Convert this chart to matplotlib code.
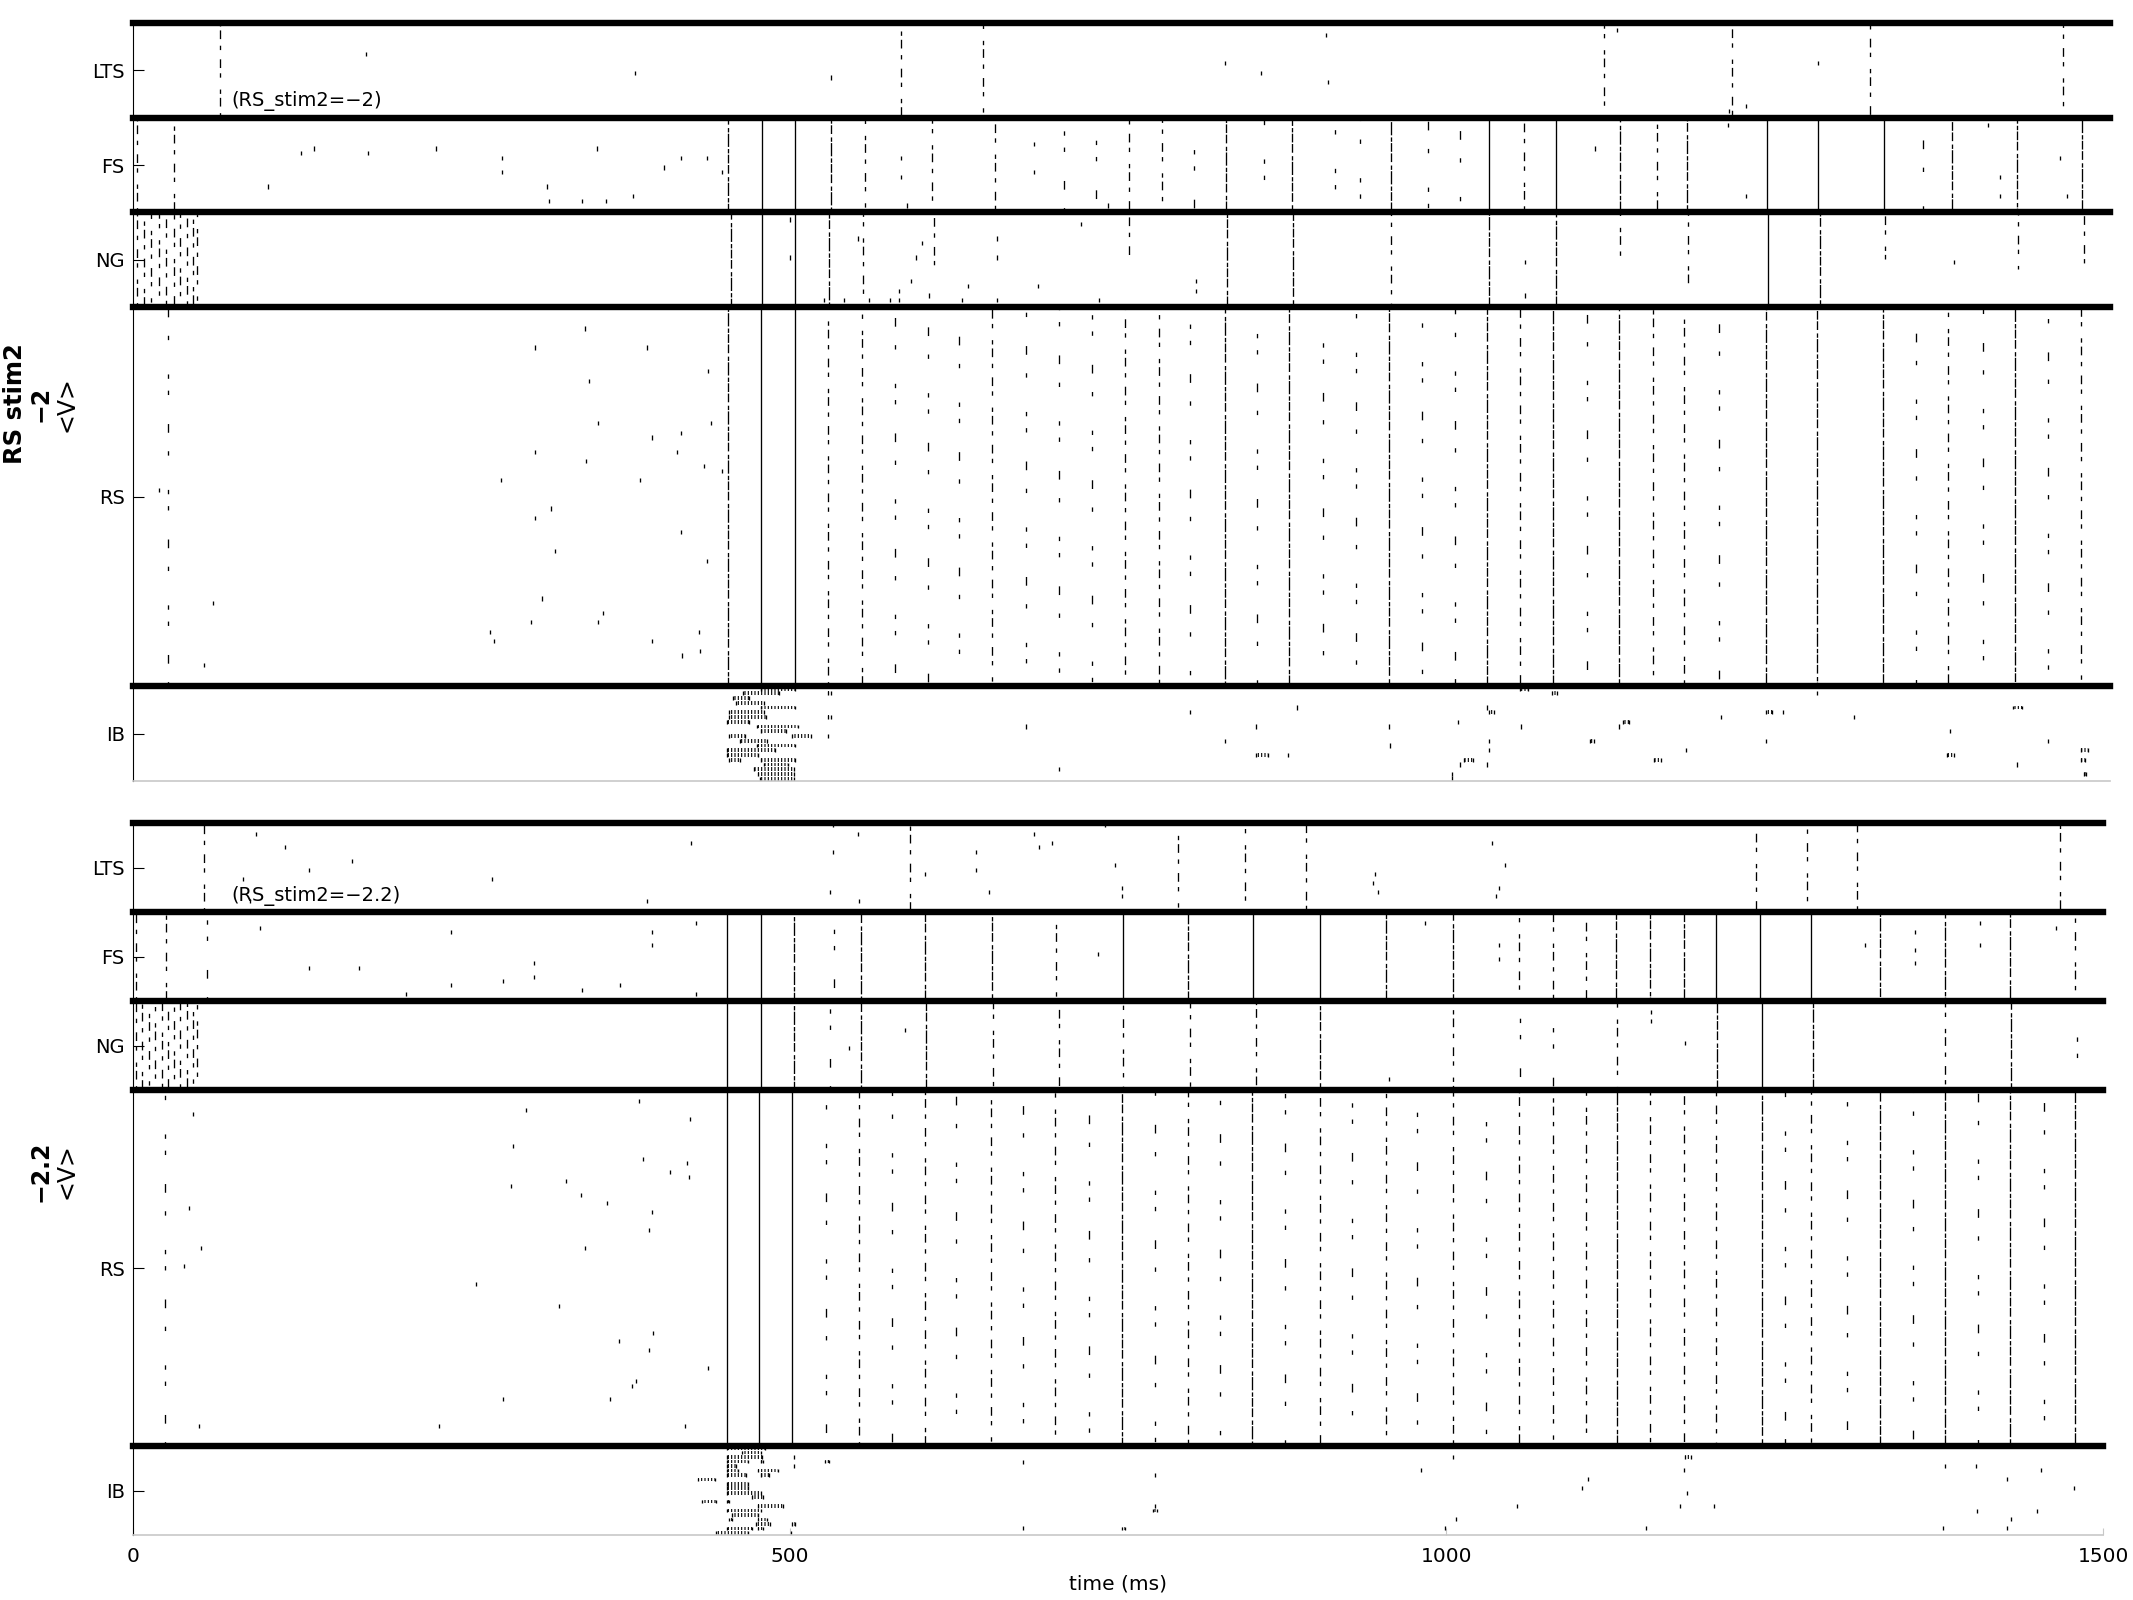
import matplotlib
matplotlib.use("Agg")
import matplotlib.pyplot as plt
from matplotlib.patches import Rectangle

plt.rcParams["font.family"] = ["DejaVu Sans"]
plt.rcParams["hatch.linewidth"] = 0.8

# populations, bottom -> top, and their cell counts
pop_names = ["IB", "RS", "NG", "FS", "LTS"]
pop_sizes = [20, 80, 20, 20, 20]

run_labels = ["(RS_stim2=\u22122)", "(RS_stim2=\u22122.2)"]
run_values = ["\u22122", "\u22122.2"]

# ---- run a : RS_stim2 = -2 ------------------------------------------
# volley times (ms) grouped by how many cells of the population fired;
# a tuple is (time, first row, last row) when only part of the band fired
# single spikes are (time, row)
lts_a_part = [66, 585, 647, 1120, 1217, 1322, 1469]
lts_a_spikes = [(177, 153), (382, 149), (531, 148), (831, 151), (859, 149), (908, 157),
                (910, 147), (1130, 158), (1215, 141), (1228, 142), (1283, 151)]

fs_a_full = [479, 504, 1032, 1083, 1244, 1283, 1333]
fs_a_dense = [453, 531, 832, 882, 958, 1132, 1183, 1385, 1434, 1484]
fs_a_part = [3, 31, 557, 608, 656, 758, 783, 1059, 1160]
fs_a_few = [709, 733, 808, 861, 915, 934, 986, 1010, 1363]
fs_a_spikes = [(103, 125), (128, 132), (138, 133), (179, 132), (231, 133), (281, 131),
               (281, 128), (315, 125), (317, 122), (342, 122), (353, 133), (360, 122),
               (381, 123), (404, 129), (417, 131), (437, 131), (448, 128), (585, 131),
               (585, 127), (589, 121), (686, 134), (686, 128), (742, 121), (1113, 133),
               (1214, 138), (1228, 123), (1412, 138), (1421, 127), (1421, 123),
               (1467, 131), (1472, 123)]

ng_a_full = [479, 504, 1245]
ng_a_dense = [455, 530, 833, 883, 1032, 1083, 1284]
ng_a_part = [3, 8, 14, 20, 25, 31, 36, 41, 46, 49, 556, (610, 108, 120), (758, 110, 120),
             958, (1132, 110, 120), (1184, 104, 120), (1334, 110, 120), (1435, 108, 120),
             (1485, 108, 120)]
ng_a_spikes = [(500, 118), (500, 110), (526, 101), (541, 101), (552, 114), (560, 101),
               (576, 101), (583, 103), (583, 101), (592, 105), (596, 110), (601, 113),
               (606, 102), (631, 101), (636, 104), (658, 114), (658, 110), (658, 101),
               (689, 104), (722, 117), (735, 101), (809, 105), (809, 103), (1060, 109),
               (1060, 102), (1386, 109)]

rs_a_full = [478, 504]
rs_a_dense = [453, 831, 880, 956, 1031, 1081, 1131, 1243, 1282, 1332, 1433]
rs_a_part = [529, 555, 654, 755, 781, 1056, 1157, 1181, 1382, 1483]
rs_a_few = [27, 580, 605, 629, 680, 705, 730, 805, 856, 906, 931, 981, 1006, 1107, 1207,
            1357, 1408, 1458]
rs_a_spikes = [(20, 61), (54, 24), (61, 37), (272, 31), (275, 29), (280, 63), (303, 33),
               (306, 91), (306, 69), (306, 55), (311, 38), (318, 57), (321, 48), (344, 95),
               (345, 67), (347, 84), (354, 75), (354, 33), (358, 35), (386, 63), (391, 91),
               (395, 72), (395, 29), (414, 69), (417, 73), (417, 52), (418, 26), (431, 31),
               (432, 27), (435, 66), (437, 46), (438, 86), (440, 75), (448, 65)]

# IB bursts: (row, first spike, last spike)
ib_a_bursts = [(19, 478, 504), (18, 464, 492), (17, 457, 469), (16, 459, 480), (15, 478, 504),
               (14, 454, 480), (13, 454, 482), (12, 452, 469), (11, 475, 506), (10, 478, 497),
               (9, 454, 466), (9, 502, 516), (8, 462, 483), (7, 475, 504), (6, 452, 489),
               (5, 452, 476), (4, 454, 462), (4, 478, 504), (3, 480, 499), (2, 473, 503),
               (1, 476, 503), (0, 477, 503), (18, 529, 531), (13, 529, 531), (5, 855, 864),
               (4, 1013, 1020), (14, 1032, 1036), (19, 1056, 1062), (18, 1080, 1084),
               (8, 1109, 1112), (12, 1134, 1139), (4, 1158, 1163), (14, 1243, 1248),
               (5, 1381, 1386), (15, 1431, 1438), (6, 1483, 1488), (4, 1483, 1486),
               (1, 1485, 1487)]
ib_a_spikes = [(529, 9), (680, 11), (705, 2), (805, 14), (831, 8), (855, 11), (879, 5),
               (886, 15), (956, 11), (957, 7), (1004, 1), (1004, 0), (1009, 12), (1010, 3),
               (1031, 15), (1031, 3), (1032, 8), (1032, 6), (1057, 11), (1131, 11),
               (1182, 6), (1209, 13), (1243, 8), (1256, 14), (1282, 18), (1310, 13),
               (1383, 10), (1434, 3), (1458, 8)]

# ---- run b : RS_stim2 = -2.2 ----------------------------------------
lts_b_part = [54, 592, 796, 847, 893, 1236, 1275, 1313, 1467]
lts_b_spikes = [(84, 147), (89, 142), (94, 157), (116, 154), (134, 149), (167, 151),
                (273, 147), (391, 142), (425, 155), (531, 144), (533, 159), (533, 153),
                (552, 157), (553, 142), (603, 148), (642, 153), (642, 149), (652, 144),
                (686, 157), (690, 154), (700, 155), (740, 159), (748, 150), (753, 145),
                (753, 143), (944, 146), (946, 148), (948, 144), (1035, 155), (1038, 143),
                (1040, 145), (1045, 150)]

fs_b_full = [452, 478, 754, 853, 904, 1205, 1239, 1278]
fs_b_dense = [503, 554, 603, 654, 803, 954, 1005, 1129, 1155, 1181, 1330, 1380, 1429]
fs_b_part = [2, 25, 703, 1055, 1081, 1106, 1479]
fs_b_few = [56, 534]
fs_b_spikes = [(97, 136), (134, 127), (172, 127), (208, 121), (242, 135), (242, 123),
               (282, 124), (305, 128), (305, 125), (342, 122), (371, 123), (395, 135),
               (395, 132), (429, 137), (429, 121), (735, 130), (984, 137), (1040, 132),
               (1040, 129), (1319, 132), (1357, 135), (1357, 131), (1357, 128),
               (1406, 137), (1406, 132), (1464, 136)]

ng_b_full = [452, 478, 1240]
ng_b_dense = [503, 554, 604, 904, 1206, 1279, 1430]
ng_b_part = [2, 7, 12, 17, 22, 27, 31, 36, 41, 46, 49, 655, 705, 754, 805, 855, 1005,
             1130, 1380]
ng_b_few = [531, 1056, 1081, 1480]
ng_b_spikes = [(545, 109), (588, 113), (956, 102), (1156, 117), (1156, 115), (1182, 110)]

rs_b_full = [452, 477, 502]
rs_b_dense = [753, 852, 1130, 1240, 1330, 1380, 1429, 1479]
rs_b_part = [553, 603, 653, 702, 803, 904, 954, 1005, 1055, 1081, 1106, 1155, 1181, 1205,
             1278]
rs_b_few = [24, 528, 578, 627, 678, 728, 778, 828, 877, 928, 978, 1030, 1258, 1305, 1355,
            1405, 1455]
rs_b_spikes = [(39, 60), (43, 73), (46, 94), (50, 24), (52, 64), (233, 24), (261, 56),
               (282, 30), (288, 78), (289, 87), (299, 95), (324, 51), (330, 79), (341, 76),
               (344, 64), (361, 74), (363, 30), (370, 43), (380, 33), (383, 34), (385, 97),
               (388, 84), (393, 68), (393, 41), (395, 72), (396, 45), (409, 81), (420, 24),
               (422, 83), (423, 80), (424, 93), (438, 37)]

ib_b_bursts = [(19, 452, 481), (18, 464, 478), (17, 452, 479), (16, 452, 468), (16, 478, 480),
               (15, 452, 459), (14, 452, 461), (14, 476, 491), (13, 452, 467), (13, 478, 484),
               (12, 430, 443), (11, 452, 468), (10, 452, 468), (9, 452, 478), (8, 471, 480),
               (7, 433, 444), (7, 452, 454), (6, 476, 495), (5, 452, 478), (4, 456, 476),
               (3, 454, 456), (3, 476, 483), (2, 474, 485), (2, 502, 504), (1, 452, 471),
               (1, 476, 480), (0, 444, 468), (16, 527, 530), (1, 753, 755), (5, 777, 780),
               (17, 1182, 1186)]
ib_b_spikes = [(503, 17), (503, 15), (501, 0), (678, 16), (678, 1), (778, 13), (778, 6),
               (981, 14), (999, 1), (1005, 17), (1007, 3), (1054, 6), (1103, 10), (1108, 12),
               (1152, 1), (1178, 6), (1181, 14), (1183, 9), (1204, 6), (1378, 1), (1380, 15),
               (1403, 15), (1404, 5), (1427, 12), (1427, 1), (1430, 3), (1450, 5), (1453, 14),
               (1478, 10)]

# dash sequences (points) for each participation level, kept irregular so the
# columns look like raster ticks rather than a printed dotted line
dash = {
    "full": None,
    "dense": (6.6, 1.0, 3.3, 1.6, 10.0, 1.0, 3.3, 2.6, 6.6, 1.2),
    "part": (3.3, 5.0, 6.6, 3.0, 3.3, 9.0, 3.3, 4.0, 6.6, 7.0),
    "few": (3.3, 14.0, 6.6, 22.0, 3.3, 9.0, 3.3, 26.0),
}
LW = 0.95


def draw_volleys(ax, volleys, lo, hi, level):
    for i, v in enumerate(volleys):
        if isinstance(v, tuple):
            t, a, b = v
        else:
            t, a, b = v, lo, hi
        d = dash[level]
        if d is None:
            ls = "solid"
        else:
            ls = ((i * 7.1) % sum(d), d)
        ax.vlines(t, a + 0.1, b - 0.1, colors="black", linewidth=LW, linestyles=[ls])


def draw_spikes(ax, spikes):
    if not spikes:
        return
    ts = [s[0] for s in spikes]
    rows = [s[1] for s in spikes]
    ax.vlines(ts, [r + 0.05 for r in rows], [r + 0.95 for r in rows], colors="black",
              linewidth=LW)


def draw_bursts(ax, bursts):
    for row, t0, t1 in bursts:
        ax.add_patch(Rectangle((t0, row + 0.1), t1 - t0, 0.8, fill=False, hatch="|||||",
                               edgecolor="black", linewidth=0))
        ax.vlines([t0, t1], row + 0.1, row + 0.9, colors="black", linewidth=LW)


runs = [
    dict(LTS=dict(part=lts_a_part, spikes=lts_a_spikes),
         FS=dict(full=fs_a_full, dense=fs_a_dense, part=fs_a_part, few=fs_a_few, spikes=fs_a_spikes),
         NG=dict(full=ng_a_full, dense=ng_a_dense, part=ng_a_part, spikes=ng_a_spikes),
         RS=dict(full=rs_a_full, dense=rs_a_dense, part=rs_a_part, few=rs_a_few, spikes=rs_a_spikes),
         IB=dict(bursts=ib_a_bursts, spikes=ib_a_spikes)),
    dict(LTS=dict(part=lts_b_part, spikes=lts_b_spikes),
         FS=dict(full=fs_b_full, dense=fs_b_dense, part=fs_b_part, few=fs_b_few, spikes=fs_b_spikes),
         NG=dict(full=ng_b_full, dense=ng_b_dense, part=ng_b_part, few=ng_b_few, spikes=ng_b_spikes),
         RS=dict(full=rs_b_full, dense=rs_b_dense, part=rs_b_part, few=rs_b_few, spikes=rs_b_spikes),
         IB=dict(bursts=ib_b_bursts, spikes=ib_b_spikes)),
]

W, H = 2133, 1600
fig = plt.figure(figsize=(W / 100, H / 100), dpi=100)
ax_a = fig.add_axes([133 / W, 1 - 781 / H, (2110 - 133) / W, (781 - 23) / H])
ax_b = fig.add_axes([133 / W, 1 - 1535 / H, (2103 - 133) / W, (1535 - 823) / H])
axes = [ax_a, ax_b]
xmax = [1505, 1500]

# band limits from cell counts
bounds = []
lo = 0
for n in pop_sizes:
    bounds.append((lo, lo + n))
    lo += n
total = lo

for k, ax in enumerate(axes):
    data = runs[k]
    for name, (b0, b1) in zip(pop_names, bounds):
        d = data[name]
        for level in ["full", "dense", "part", "few"]:
            if level in d:
                draw_volleys(ax, d[level], b0, b1, level)
        if "bursts" in d:
            draw_bursts(ax, d["bursts"])
        draw_spikes(ax, d["spikes"])

    # thick separators between populations
    for b0, b1 in bounds[1:]:
        ax.axhline(b1, color="black", linewidth=4.6, clip_on=False, zorder=5)
    ax.axhline(bounds[1][0], color="black", linewidth=4.6, clip_on=False, zorder=5)

    ax.set_xlim(0, xmax[k])
    ax.set_ylim(0, total)
    ax.set_yticks([(b0 + b1) / 2 for b0, b1 in bounds])
    ax.set_yticklabels(pop_names)
    ax.tick_params(axis="y", direction="in", length=8, width=0.8, labelsize=14, pad=6)
    ax.spines["top"].set_visible(False)
    ax.spines["right"].set_visible(False)
    ax.spines["left"].set_linewidth(0.8)
    ax.spines["bottom"].set_color("#c8c8c8")
    ax.spines["bottom"].set_linewidth(1.2)
    ax.text(75, 143.5, run_labels[k], fontsize=14, va="center", ha="left")

ax_a.set_xticks([])
ax_b.set_xticks([0, 500, 1000, 1500])
ax_b.tick_params(axis="x", direction="in", length=5, width=0.8, color="#c8c8c8",
                 labelsize=14.5, pad=9)
ax_b.set_xlabel("time (ms)", fontsize=14.5, labelpad=6)

# left side labels
fig.text(15 / W, 0.7475, "RS stim2", rotation=90, fontsize=17.5, fontweight="bold",
         ha="center", va="center")
fig.text(40 / W, 0.7475, run_values[0], rotation=90, fontsize=17, fontweight="bold",
         ha="center", va="center")
fig.text(67 / W, 0.7475, "<V>", rotation=90, fontsize=17, ha="center", va="center")
fig.text(40 / W, 0.268, run_values[1], rotation=90, fontsize=17, fontweight="bold",
         ha="center", va="center")
fig.text(67 / W, 0.268, "<V>", rotation=90, fontsize=17, ha="center", va="center")

fig.savefig("out.png", dpi=100)
